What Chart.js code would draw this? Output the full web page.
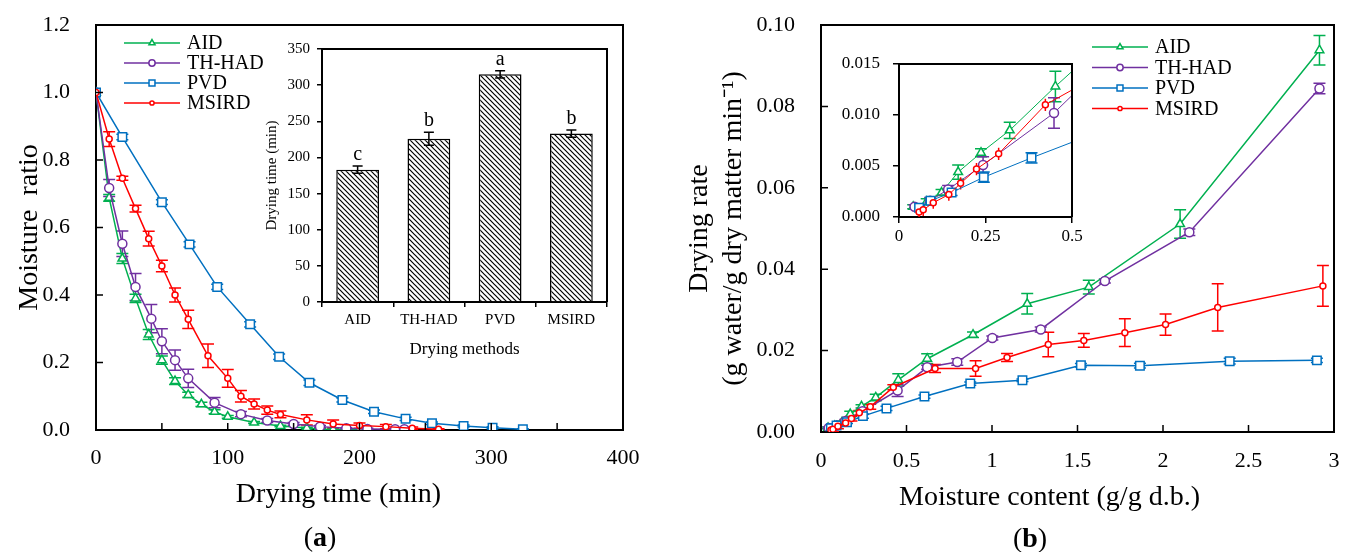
<!DOCTYPE html>
<html>
<head>
<meta charset="utf-8">
<script src="https://cdn.jsdelivr.net/npm/chart.js@4.4.1/dist/chart.umd.min.js"></script>
<style>
    html, body { margin: 0; padding: 0; background: #fff; width: 1349px; height: 552px; overflow: hidden; }
    .box { position: absolute; }
    .cap { position: absolute; font-family: 'Liberation Serif', 'Times New Roman', serif; font-size: 28px;
           transform: translate(-50%, -50%); white-space: nowrap; }
</style>
</head>
<body>
<div class="box" style="left:0;top:0;width:660px;height:552px"><canvas id="mrChart"></canvas></div>
<div class="box" style="left:230px;top:30px;width:400px;height:340px"><canvas id="timeChart"></canvas></div>
<div class="box" style="left:670px;top:0;width:679px;height:552px"><canvas id="rateChart"></canvas></div>
<div class="box" style="left:830px;top:50px;width:260px;height:200px"><canvas id="rateZoomChart"></canvas></div>
<div class="cap" style="left:320px;top:537px">(<b>a</b>)</div>
<div class="cap" style="left:1030px;top:538px">(<b>b</b>)</div>

<script>
"use strict";

// ─── Data: (a) moisture ratio vs drying time ─────────────────────────────────

const aidTime  = [0, 10, 20, 30, 40, 50, 60, 70, 80, 90, 100, 120, 140, 160, 170, 180, 190, 200];
const aidMR    = [1.000, 0.688, 0.508, 0.390, 0.283, 0.207, 0.145, 0.104, 0.076, 0.054, 0.039, 0.022, 0.012, 0.006, 0.003, 0.002, 0.001, 0.001];
const aidMRErr = [0, 0.010, 0.015, 0.012, 0.015, 0.012, 0.010, 0.008, 0.006, 0.006, 0.004, 0.003, 0.002, 0.002, 0.001, 0.001, 0.001, 0.001];

const thTime   = [0, 10, 20, 30, 42, 50, 60, 70, 90, 110, 130, 150, 170, 190, 206, 227, 234];
const thMR     = [1.000, 0.717, 0.552, 0.424, 0.330, 0.263, 0.207, 0.153, 0.081, 0.047, 0.028, 0.018, 0.010, 0.005, 0.003, 0.002, 0.002];
const thMRErr  = [0, 0.025, 0.038, 0.040, 0.042, 0.037, 0.030, 0.027, 0.015, 0.008, 0.006, 0.004, 0.003, 0.002, 0.002, 0.002, 0.002];

const pvdTime  = [0, 20, 50, 71, 92, 117, 139, 162, 187, 211, 235, 255, 279, 301, 324];
const pvdMR    = [1.000, 0.868, 0.675, 0.550, 0.424, 0.313, 0.217, 0.140, 0.089, 0.054, 0.033, 0.020, 0.012, 0.007, 0.002];
const pvdMRErr = [0, 0.008, 0.007, 0.008, 0.008, 0.008, 0.008, 0.008, 0.006, 0.005, 0.005, 0.004, 0.003, 0.003, 0.002];

const msTime   = [0, 10, 20, 30, 40, 50, 60, 70, 85, 100, 110, 120, 130, 140, 160, 180, 200, 220, 240, 260];
const msMR     = [1.000, 0.862, 0.746, 0.656, 0.567, 0.486, 0.400, 0.328, 0.220, 0.153, 0.100, 0.077, 0.059, 0.046, 0.030, 0.018, 0.013, 0.010, 0.005, 0.002];
const msMRErr  = [0, 0.022, 0.006, 0.010, 0.022, 0.017, 0.021, 0.027, 0.035, 0.026, 0.017, 0.015, 0.012, 0.010, 0.015, 0.012, 0.008, 0.006, 0.004, 0.002];

// ─── Data: (a) inset, total drying time ──────────────────────────────────────

const methods        = ['AID', 'TH-HAD', 'PVD', 'MSIRD'];
const dryingTime     = [183, 226, 315, 233];
const dryingTimeErr  = [5, 9, 5, 5];
const dryingLetters  = ['c', 'b', 'a', 'b'];

// ─── Data: (b) drying rate vs moisture content ───────────────────────────────

const aidMC      = [0.041, 0.080, 0.123, 0.171, 0.237, 0.320, 0.452, 0.621, 0.889, 1.206, 1.566, 2.100, 2.915];
const aidRate    = [0.0010, 0.0015, 0.0024, 0.0044, 0.0063, 0.0085, 0.0128, 0.0180, 0.0239, 0.0315, 0.0356, 0.0511, 0.0938];
const aidRateErr = [0.0002, 0.0003, 0.0003, 0.0007, 0.0004, 0.0008, 0.0015, 0.0012, 0.0007, 0.0025, 0.0017, 0.0035, 0.0036];

const thMC       = [0.045, 0.090, 0.142, 0.243, 0.448, 0.621, 0.797, 1.002, 1.285, 1.660, 2.154, 2.915];
const thRate     = [0.0010, 0.0016, 0.0027, 0.0051, 0.0102, 0.0159, 0.0172, 0.0231, 0.0252, 0.0371, 0.0491, 0.0844];
const thRateErr  = [0.0002, 0.0003, 0.0004, 0.0008, 0.0015, 0.0005, 0.0008, 0.0005, 0.0006, 0.0005, 0.0008, 0.0013];

const pvdMC      = [0.058, 0.091, 0.152, 0.245, 0.383, 0.605, 0.873, 1.178, 1.520, 1.865, 2.390, 2.900];
const pvdRate    = [0.0009, 0.0016, 0.0024, 0.0039, 0.0058, 0.0087, 0.0119, 0.0127, 0.0164, 0.0163, 0.0174, 0.0176];
const pvdRateErr = [0.0002, 0.0002, 0.0003, 0.0005, 0.0005, 0.0004, 0.0004, 0.0003, 0.0004, 0.0006, 0.0007, 0.0005];

const msMC       = [0.058, 0.070, 0.099, 0.144, 0.178, 0.224, 0.288, 0.423, 0.667, 0.904, 1.088, 1.329, 1.537, 1.777, 2.015, 2.320, 2.935];
const msRate     = [0.0005, 0.0007, 0.0014, 0.0022, 0.0033, 0.0047, 0.0062, 0.0110, 0.0156, 0.0156, 0.0183, 0.0215, 0.0225, 0.0244, 0.0264, 0.0306, 0.0359];
const msRateErr  = [0.0006, 0.0006, 0.0006, 0.0006, 0.0006, 0.0006, 0.0006, 0.0006, 0.0010, 0.0019, 0.0010, 0.0030, 0.0017, 0.0034, 0.0026, 0.0058, 0.0050];

// ─── Styles ──────────────────────────────────────────────────────────────────

const FONT = "'Liberation Serif', 'Times New Roman', serif";

const LOOK = {
    'AID':    { color: '#00b050', shape: 'triangle', r: 5,   order: 3 },
    'TH-HAD': { color: '#7030a0', shape: 'circle',   r: 4.5, order: 2 },
    'PVD':    { color: '#0070c0', shape: 'rect',     r: 6,   order: 1 },
    'MSIRD':  { color: '#ff0000', shape: 'circle',   r: 3,   order: 0 }
};

Chart.defaults.font.family = FONT;
Chart.defaults.color = '#000';

function plainNum(v) {
    return String(Number(v.toFixed(3)));
}

// fixed axis sizes, no label overhang added to the margins
function fixSize(w, h) {
    return function(s) {
        if (w) { s.width = w; }
        if (h) { s.height = h; }
        s.paddingLeft = 0; s.paddingRight = 0; s.paddingTop = 0; s.paddingBottom = 0;
    };
}

function lineSet(name, xs, ys, err, lw) {
    var s = LOOK[name];
    return {
        label:                name,
        data:                 xs.map(function(x, i) { return { x: x, y: ys[i] }; }),
        err:                  err,
        showLine:             true,
        order:                s.order,
        borderColor:          s.color,
        backgroundColor:      '#fff',
        borderWidth:          lw,
        pointStyle:           s.shape,
        pointRadius:          s.r,
        pointBorderWidth:     1.5,
        pointBorderColor:     s.color,
        pointBackgroundColor: '#fff'
    };
}

function hatch() {
    var c = document.createElement('canvas');
    c.width = 5; c.height = 5;
    var g = c.getContext('2d');
    g.fillStyle = '#fff';
    g.fillRect(0, 0, 5, 5);
    g.strokeStyle = '#000';
    g.lineWidth = 1.2;
    g.beginPath();
    [-5, 0, 5].forEach(function(k) { g.moveTo(-2, -2 + k); g.lineTo(7, 7 + k); });
    g.stroke();
    return g.createPattern(c, 'repeat');
}

// ─── Plugins ─────────────────────────────────────────────────────────────────

function _drawErrors(chart, opts) {
    var ctx = chart.ctx, a = chart.chartArea, ys = chart.scales.y;
    ctx.save();
    ctx.beginPath();
    ctx.rect(a.left, a.top, a.right - a.left, a.bottom - a.top);
    ctx.clip();
    chart.data.datasets.forEach(function(ds, di) {
        if (!ds.err) { return; }
        var meta = chart.getDatasetMeta(di);
        var cap  = (opts.noCap || []).indexOf(ds.label) >= 0 ? 0 : (opts.cap || 5);
        ctx.strokeStyle = ds.errColor || ds.borderColor;
        ctx.lineWidth   = opts.width || 1.5;
        ctx.beginPath();
        meta.data.forEach(function(el, i) {
            var e = ds.err[i];
            if (!e) { return; }
            var raw = ds.data[i];
            var v   = typeof raw === 'object' ? raw.y : raw;
            var y1  = ys.getPixelForValue(v + e), y2 = ys.getPixelForValue(v - e);
            ctx.moveTo(el.x, y1); ctx.lineTo(el.x, y2);
            if (cap) {
                ctx.moveTo(el.x - cap, y1); ctx.lineTo(el.x + cap, y1);
                ctx.moveTo(el.x - cap, y2); ctx.lineTo(el.x + cap, y2);
            }
        });
        ctx.stroke();
    });
    ctx.restore();
}

const errorBars = {
    id: 'errorBars',
    beforeDatasetsDraw: function(chart, args, opts) { if (!opts.onTop) { _drawErrors(chart, opts); } },
    afterDatasetsDraw:  function(chart, args, opts) { if (opts.onTop)  { _drawErrors(chart, opts); } }
};

const frameBox = {
    id: 'frameBox',
    afterDatasetsDraw: function(chart) {
        var a = chart.chartArea, ctx = chart.ctx;
        ctx.save();
        ctx.strokeStyle = '#000';
        ctx.lineWidth = 2;
        ctx.beginPath();
        ctx.moveTo(a.left, a.top); ctx.lineTo(a.right, a.top); ctx.lineTo(a.right, a.bottom);
        ctx.stroke();
        ctx.restore();
    }
};

const innerTicks = {
    id: 'innerTicks',
    afterDatasetsDraw: function(chart, args, opts) {
        if (!opts.length) { return; }
        var ctx = chart.ctx, a = chart.chartArea, xs = chart.scales.x, ys = chart.scales.y;
        ctx.save();
        ctx.strokeStyle = '#000';
        ctx.lineWidth = 1.5;
        ctx.beginPath();
        xs.ticks.forEach(function(t, i) {
            var p = xs.getPixelForTick(i);
            ctx.moveTo(p, a.bottom); ctx.lineTo(p, a.bottom - opts.length);
        });
        ys.ticks.forEach(function(t, i) {
            var p = ys.getPixelForTick(i);
            ctx.moveTo(a.left, p); ctx.lineTo(a.left + opts.length, p);
        });
        ctx.stroke();
        ctx.restore();
    }
};

const lineLegend = {
    id: 'lineLegend',
    afterDatasetsDraw: function(chart, args, opts) {
        if (!opts.display) { return; }
        var ctx = chart.ctx;
        ctx.save();
        ctx.font = opts.font;
        ctx.textAlign = 'left';
        ctx.textBaseline = 'middle';
        chart.data.datasets.forEach(function(ds, i) {
            var y  = opts.y + i * opts.rowGap;
            var mx = opts.x + opts.lineLen / 2;
            ctx.strokeStyle = ds.borderColor;
            ctx.lineWidth = 1.5;
            ctx.beginPath();
            ctx.moveTo(opts.x, y); ctx.lineTo(opts.x + opts.lineLen, y);
            ctx.stroke();
            ctx.fillStyle = '#fff';
            Chart.helpers.drawPoint(ctx, {
                pointStyle: ds.pointStyle, radius: ds.pointRadius * 0.7,
                borderWidth: 1.5, rotation: 0
            }, mx, y);
            ctx.fillStyle = '#000';
            ctx.fillText(ds.label, opts.x + opts.lineLen + 7, y + 1);
        });
        ctx.restore();
    }
};

const barLetters = {
    id: 'barLetters',
    afterDatasetsDraw: function(chart, args, opts) {
        var ds = chart.data.datasets[0];
        if (!ds.letters) { return; }
        var ctx = chart.ctx, ys = chart.scales.y, meta = chart.getDatasetMeta(0);
        ctx.save();
        ctx.font = opts.font;
        ctx.fillStyle = '#000';
        ctx.textAlign = 'center';
        ctx.textBaseline = 'alphabetic';
        meta.data.forEach(function(el, i) {
            ctx.fillText(ds.letters[i], el.x, ys.getPixelForValue(ds.data[i] + ds.err[i]) - 6);
        });
        ctx.restore();
    }
};

// ─── Helpers for scales ──────────────────────────────────────────────────────

function mainAxis(extra) {
    return Object.assign({
        type:   'linear',
        grid:   { display: false, drawTicks: false },
        border: { display: true, color: '#000', width: 2 }
    }, extra);
}

function insetGrid(len) {
    return { display: true, drawOnChartArea: false, drawTicks: true, tickLength: len, color: '#000', lineWidth: 1.5 };
}

// ─── (a) Moisture ratio ──────────────────────────────────────────────────────

new Chart(document.getElementById('mrChart'), {
    type: 'scatter',
    data: {
        datasets: [
            lineSet('AID',    aidTime, aidMR, aidMRErr, 1.5),
            lineSet('TH-HAD', thTime,  thMR,  thMRErr,  1.5),
            lineSet('PVD',    pvdTime, pvdMR, pvdMRErr, 1.5),
            lineSet('MSIRD',  msTime,  msMR,  msMRErr,  1.5)
        ]
    },
    options: {
        responsive: true,
        maintainAspectRatio: false,
        animation: false,
        events: [],
        layout: { padding: { top: 25, right: 37, left: 0, bottom: 0 } },
        plugins: {
            legend:     { display: false },
            tooltip:    { enabled: false },
            errorBars:  { cap: 6, width: 1.5 },
            innerTicks: { length: 7 },
            lineLegend: { display: true, x: 124, y: 43, rowGap: 20, lineLen: 56, font: '20px ' + FONT }
        },
        scales: {
            x: mainAxis({
                min: 0, max: 400,
                ticks: { stepSize: 50, autoSkip: false, maxRotation: 0, padding: 15, font: { size: 22 },
                         callback: function(v) { return v % 100 === 0 ? v : ''; } },
                title: { display: true, text: 'Drying time (min)      ', font: { size: 28 }, padding: { top: 0, bottom: 41 } },
                afterFit: fixSize(0, 122)
            }),
            y: mainAxis({
                min: 0, max: 1.2,
                ticks: { stepSize: 0.2, padding: 26, font: { size: 22 },
                         callback: function(v) { return v.toFixed(1); } },
                title: { display: true, text: 'Moisture  ratio', font: { size: 28 }, padding: { top: 13, bottom: 0 } },
                afterFit: fixSize(96, 0)
            })
        }
    },
    plugins: [errorBars, innerTicks, frameBox, lineLegend]
});

// ─── (a) inset: drying time bars ─────────────────────────────────────────────

new Chart(document.getElementById('timeChart'), {
    type: 'bar',
    data: {
        labels: methods,
        datasets: [{
            data:               dryingTime,
            err:                dryingTimeErr,
            errColor:           '#000',
            letters:            dryingLetters,
            backgroundColor:    hatch(),
            borderColor:        '#000',
            borderWidth:        1.5,
            barPercentage:      0.6,
            categoryPercentage: 1
        }]
    },
    options: {
        responsive: true,
        maintainAspectRatio: false,
        animation: false,
        events: [],
        layout: { padding: { top: 19, right: 23, left: 0, bottom: 0 } },
        plugins: {
            legend:     { display: false },
            tooltip:    { enabled: false },
            errorBars:  { cap: 5, width: 1.5, onTop: true },
            barLetters: { font: '20px ' + FONT }
        },
        scales: {
            x: {
                grid:   Object.assign(insetGrid(5), { offset: true }),
                border: { display: true, color: '#000', width: 2 },
                ticks:  { padding: 4, font: { size: 15 }, maxRotation: 0 },
                title:  { display: true, text: 'Drying methods', font: { size: 17 }, padding: { top: 0, bottom: 10 } },
                afterFit: fixSize(0, 68)
            },
            y: {
                min: 0, max: 350,
                grid:   insetGrid(5),
                border: { display: true, color: '#000', width: 2 },
                ticks:  { stepSize: 50, padding: 7, font: { size: 15 } },
                title:  { display: true, text: 'Drying time (min)', font: { size: 15 }, padding: { top: 33, bottom: 0 } },
                afterFit: fixSize(92, 0)
            }
        }
    },
    plugins: [errorBars, frameBox, barLetters]
});

// ─── (b) Drying rate ─────────────────────────────────────────────────────────

function rateSets(lw) {
    return [
        lineSet('AID',    aidMC, aidRate, aidRateErr, lw),
        lineSet('TH-HAD', thMC,  thRate,  thRateErr,  lw),
        lineSet('PVD',    pvdMC, pvdRate, pvdRateErr, lw),
        lineSet('MSIRD',  msMC,  msRate,  msRateErr,  lw)
    ];
}

new Chart(document.getElementById('rateChart'), {
    type: 'scatter',
    data: { datasets: rateSets(1.5) },
    options: {
        responsive: true,
        maintainAspectRatio: false,
        animation: false,
        events: [],
        layout: { padding: { top: 25, right: 15, left: 0, bottom: 0 } },
        plugins: {
            legend:     { display: false },
            tooltip:    { enabled: false },
            errorBars:  { cap: 6, width: 1.5 },
            innerTicks: { length: 7 },
            lineLegend: { display: true, x: 422, y: 47, rowGap: 20.5, lineLen: 56, font: '20px ' + FONT }
        },
        scales: {
            x: mainAxis({
                min: 0, max: 3,
                ticks: { stepSize: 0.5, autoSkip: false, maxRotation: 0, padding: 16, font: { size: 22 },
                         callback: plainNum },
                title: { display: true, text: 'Moisture content (g/g d.b.)        ', font: { size: 28 }, padding: { top: 0, bottom: 38 } },
                afterFit: fixSize(0, 120)
            }),
            y: mainAxis({
                min: 0, max: 0.1,
                ticks: { stepSize: 0.02, padding: 26, font: { size: 22 },
                         callback: function(v) { return v.toFixed(2); } },
                title: { display: true, text: ['Drying rate', '(g water/g dry matter min\u207B\u00B9)'],
                         font: { size: 28 }, padding: { top: 13, bottom: 0 } },
                afterFit: fixSize(151, 0)
            })
        }
    },
    plugins: [errorBars, innerTicks, frameBox, lineLegend]
});

// ─── (b) inset: low moisture range ───────────────────────────────────────────

new Chart(document.getElementById('rateZoomChart'), {
    type: 'scatter',
    data: { datasets: rateSets(1) },
    options: {
        responsive: true,
        maintainAspectRatio: false,
        animation: false,
        events: [],
        layout: { padding: { top: 14, right: 18, left: 0, bottom: 0 } },
        plugins: {
            legend:    { display: false },
            tooltip:   { enabled: false },
            errorBars: { cap: 6, width: 1.5, noCap: ['MSIRD'] }
        },
        scales: {
            x: {
                type: 'linear', min: 0, max: 0.5,
                grid:   insetGrid(6),
                border: { display: true, color: '#000', width: 2 },
                ticks:  { stepSize: 0.25, padding: 3, maxRotation: 0, font: { size: 17 }, callback: plainNum },
                afterFit: fixSize(0, 33)
            },
            y: {
                type: 'linear', min: 0, max: 0.015,
                grid:   insetGrid(6),
                border: { display: true, color: '#000', width: 2 },
                ticks:  { stepSize: 0.005, padding: 13, font: { size: 17 },
                          callback: function(v) { return v.toFixed(3); } },
                afterFit: fixSize(69, 0)
            }
        }
    },
    plugins: [errorBars, frameBox]
});
</script>
</body>
</html>
